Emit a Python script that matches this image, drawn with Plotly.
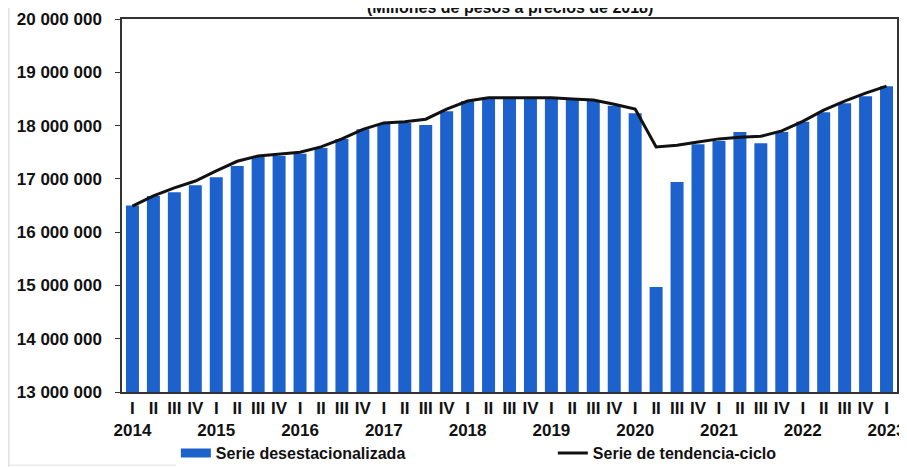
import plotly.graph_objects as go

years = ["2014", "2015", "2016", "2017", "2018", "2019", "2020", "2021", "2022", "2023"]
quarters = ["I", "II", "III", "IV"]

desest = [16500000, 16680000, 16750000, 16880000,
          17030000, 17240000, 17410000, 17430000,
          17470000, 17580000, 17750000, 17930000,
          18030000, 18050000, 18010000, 18270000,
          18460000, 18520000, 18520000, 18530000,
          18510000, 18500000, 18480000, 18370000,
          18230000, 14970000, 16940000, 17650000,
          17710000, 17880000, 17670000, 17880000,
          18070000, 18250000, 18420000, 18550000,
          18740000]

tendencia = [16490000, 16680000, 16830000, 16960000,
             17150000, 17330000, 17430000, 17470000,
             17500000, 17600000, 17750000, 17930000,
             18050000, 18070000, 18120000, 18310000,
             18460000, 18520000, 18520000, 18530000,
             18520000, 18500000, 18480000, 18400000,
             18310000, 17600000, 17630000, 17690000,
             17750000, 17780000, 17800000, 17900000,
             18080000, 18290000, 18460000, 18610000,
             18740000]

y_ticks = [13000000, 14000000, 15000000, 16000000, 17000000, 18000000, 19000000, 20000000]
y_tick_text = ["13 000 000", "14 000 000", "15 000 000", "16 000 000",
               "17 000 000", "18 000 000", "19 000 000", "20 000 000"]

n = len(desest)
x = list(range(n))
tick_text = []
for i in range(n):
    q = quarters[i % 4]
    if i % 4 == 0:
        tick_text.append("<b>" + q + "</b><br><b>" + years[i // 4] + "</b>")
    else:
        tick_text.append("<b>" + q + "</b><br> ")

font = "Liberation Sans, Arial, sans-serif"
blue = "#1d62cc"

fig = go.Figure()
fig.add_trace(go.Bar(
    x=x, y=desest, name="Serie desestacionalizada",
    marker=dict(color=blue, line=dict(width=0)),
    showlegend=False,
))
# legend entry drawn as a wide blue stroke, like the reference
fig.add_trace(go.Scatter(
    x=[None], y=[None], name="<b>Serie desestacionalizada</b>",
    mode="lines", line=dict(color=blue, width=9),
))
fig.add_trace(go.Scatter(
    x=x, y=tendencia, name="<b>Serie de tendencia-ciclo</b>",
    mode="lines", line=dict(color="#111111", width=3),
))

fig.update_layout(
    width=899, height=459,
    margin=dict(l=114, r=10, t=11, b=75, autoexpand=False),
    paper_bgcolor="white", plot_bgcolor="white",
    bargap=0.38,
    font=dict(family=font, size=14, color="#111111"),
    showlegend=True,
    legend=dict(orientation="h", x=0.0695, y=-0.1635, xanchor="left", yanchor="middle",
                entrywidth=332, entrywidthmode="pixels",
                font=dict(family=font, size=16, color="#111111")),
    annotations=[dict(text="<b>(Millones de pesos a precios de 2018)</b>",
                      xref="paper", yref="paper", x=0.5, y=1.0, yshift=12,
                      xanchor="center", yanchor="middle", showarrow=False,
                      font=dict(family=font, size=16, color="#111111"))],
    shapes=[dict(type="line", xref="paper", yref="paper",
                 x0=-0.146, x1=-0.146, y0=-0.2, y1=1.03,
                 line=dict(color="#d0d0d0", width=1)),
            dict(type="line", xref="paper", yref="paper",
                 x0=-0.146, x1=1.0, y0=-0.196, y1=-0.196,
                 line=dict(color="#e0e0e0", width=1))],
)

fig.update_xaxes(
    range=[-0.5, n - 0.5], tickmode="array", tickvals=x, ticktext=tick_text,
    tickangle=0,
    showline=True, linecolor="#333333", linewidth=1.5, mirror=True,
    ticks="", showgrid=False,
    tickfont=dict(family=font, size=17, color="#111111"),
)
fig.update_yaxes(
    range=[13000000, 20000000], tickmode="array", tickvals=y_ticks,
    ticktext=["<b>" + t + "</b>" for t in y_tick_text],
    showline=True, linecolor="#333333", linewidth=1.5, mirror=True,
    ticks="outside", ticklen=5, tickcolor="#333333", showgrid=False,
    ticklabelstandoff=10,
    tickfont=dict(family=font, size=17, color="#111111"),
)

fig.write_html("out.html")
